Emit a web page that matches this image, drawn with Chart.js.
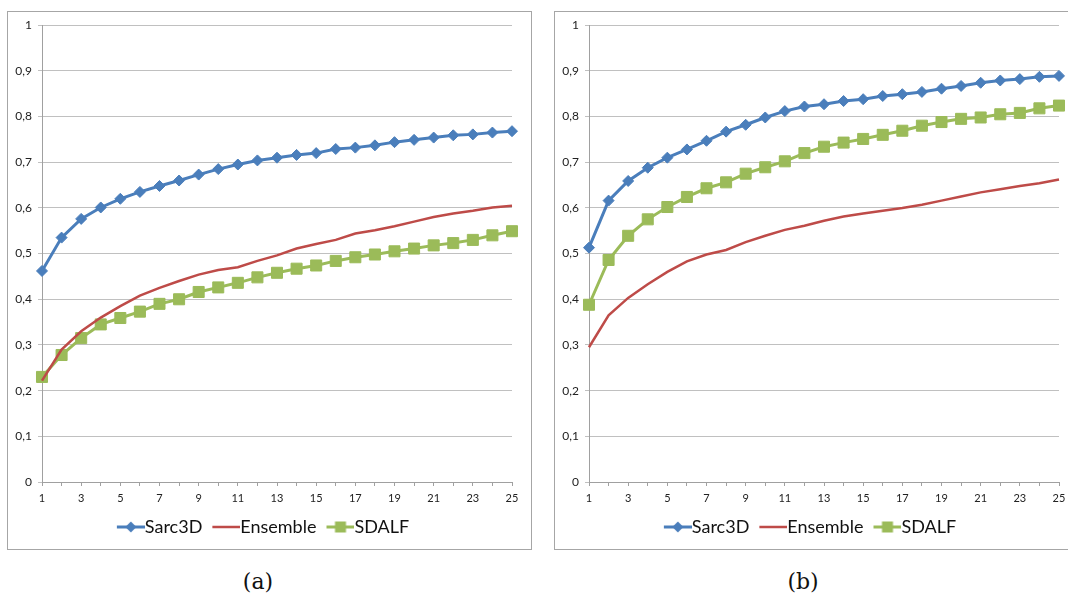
<!DOCTYPE html>
<html>
<head>
<meta charset="utf-8">
<script src="https://cdn.jsdelivr.net/npm/chart.js@4"></script>
<style>
  body { margin: 0; background: #fff; width: 1068px; height: 595px; overflow: hidden; position: relative; }
  .box { position: absolute; top: 11px; width: 523px; height: 537px; border: 1px solid #a6a6a6; background: #fff; }
  .caption { position: absolute; top: 569px; font-family: "DejaVu Serif", "Liberation Serif", serif; font-size: 22px; color: #111; transform: translateX(-50%); }
</style>
</head>
<body>
<div class="box" style="left:7px"><canvas id="chart-a"></canvas></div>
<div class="box" style="left:554px"><canvas id="chart-b"></canvas></div>
<div class="caption" style="left:258px">(a)</div>
<div class="caption" style="left:803px">(b)</div>
<script>
// rangs 1..25
const ranks = ['1','2','3','4','5','6','7','8','9','10','11','12','13','14','15','16','17','18','19','20','21','22','23','24','25'];
const seriesNames = ['Sarc3D', 'Ensemble', 'SDALF'];

// graphique (a)
const sarcA = [0.462,0.535,0.576,0.601,0.620,0.635,0.648,0.660,0.673,0.685,0.695,0.704,0.710,0.716,0.720,0.729,0.732,0.737,0.744,0.749,0.754,0.759,0.761,0.765,0.768];
const ensembleA = [0.222,0.290,0.330,0.360,0.385,0.408,0.425,0.440,0.454,0.464,0.470,0.484,0.496,0.511,0.521,0.530,0.544,0.551,0.560,0.570,0.580,0.588,0.594,0.601,0.605];
const sdalfA = [0.230,0.278,0.315,0.345,0.359,0.373,0.390,0.400,0.416,0.426,0.436,0.448,0.458,0.467,0.474,0.484,0.492,0.498,0.505,0.511,0.518,0.523,0.530,0.540,0.549];

// graphique (b)
const sarcB = [0.513,0.616,0.659,0.688,0.710,0.728,0.747,0.767,0.782,0.798,0.812,0.822,0.827,0.834,0.838,0.845,0.849,0.854,0.861,0.867,0.874,0.879,0.882,0.887,0.889];
const ensembleB = [0.295,0.365,0.403,0.433,0.460,0.483,0.498,0.508,0.525,0.539,0.552,0.561,0.572,0.581,0.588,0.594,0.600,0.607,0.616,0.625,0.634,0.641,0.648,0.654,0.662];
const sdalfB = [0.388,0.486,0.539,0.575,0.602,0.624,0.643,0.656,0.675,0.689,0.702,0.720,0.734,0.743,0.751,0.760,0.769,0.780,0.788,0.795,0.798,0.805,0.808,0.818,0.824];

const blue = '#4a7ebb';
const red = '#be4b48';
const green = '#9bbb59';

// icône de légende façon Excel : trait + marqueur, cadré à droite
// (marge transparente à gauche pour coller le trait au texte)
function legendIcon(color, marker, lw) {
    const c = document.createElement('canvas');
    c.width = 43; c.height = 14;
    const ctx = c.getContext('2d');
    const x0 = 15;
    ctx.strokeStyle = color;
    ctx.fillStyle = color;
    ctx.lineWidth = lw;
    ctx.beginPath();
    ctx.moveTo(x0, 7); ctx.lineTo(43, 7);
    ctx.stroke();
    if (marker === 'diamond') {
        ctx.beginPath();
        ctx.moveTo(x0 + 14, 1.5); ctx.lineTo(x0 + 19.5, 7); ctx.lineTo(x0 + 14, 12.5); ctx.lineTo(x0 + 8.5, 7);
        ctx.closePath(); ctx.fill();
    } else if (marker === 'square') {
        ctx.fillRect(x0 + 8.5, 1.5, 11, 11);
    }
    return c;
}
const icons = [legendIcon(blue, 'diamond', 3), legendIcon(red, null, 2.5), legendIcon(green, 'square', 3)];

function makeChart(id, sarc, ensemble, sdalf) {
    return new Chart(document.getElementById(id), {
        type: 'line',
        data: {
            labels: ranks,
            datasets: [
                { label: seriesNames[0], data: sarc, borderColor: blue, backgroundColor: blue, borderWidth: 3,
                  pointStyle: 'rectRot', pointRadius: 5.5, pointBorderWidth: 1, tension: 0 },
                { label: seriesNames[1], data: ensemble, borderColor: red, backgroundColor: red, borderWidth: 2.5,
                  pointRadius: 0, tension: 0 },
                { label: seriesNames[2], data: sdalf, borderColor: green, backgroundColor: green, borderWidth: 3,
                  pointStyle: 'rect', pointRadius: 7.8, pointBorderWidth: 1, tension: 0 }
            ]
        },
        options: {
            responsive: true,
            maintainAspectRatio: false,
            animation: false,
            layout: { padding: { top: 13, right: 19, left: 0, bottom: 3 } },
            plugins: {
                tooltip: { enabled: false },
                legend: {
                    position: 'bottom',
                    labels: {
                        usePointStyle: true,
                        pointStyleWidth: 25,
                        padding: 4,
                        color: '#111',
                        font: { family: 'Lato', size: 18 },
                        generateLabels: function (chart) {
                            const items = Chart.defaults.plugins.legend.labels.generateLabels(chart);
                            items.forEach(function (it, i) { it.pointStyle = icons[i]; });
                            return items;
                        }
                    }
                }
            },
            scales: {
                x: {
                    offset: false,
                    grid: { drawOnChartArea: false, drawTicks: true, tickLength: 4, color: '#a0a0a0' },
                    border: { color: '#a0a0a0' },
                    ticks: {
                        autoSkip: false, maxRotation: 0, padding: 6, color: '#222',
                        font: { family: 'Lato', size: 11 },
                        callback: function (v, i) { return i % 2 === 0 ? ranks[i] : ''; }
                    },
                    afterFit: function (s) { s.height = 32; }
                },
                y: {
                    min: 0, max: 1,
                    grid: { color: '#c0c0c0', tickLength: 4 },
                    border: { color: '#a0a0a0' },
                    ticks: {
                        stepSize: 0.1, padding: 6, color: '#222',
                        font: { family: 'Lato', size: 12 },
                        callback: function (v) { return String(Math.round(v * 10) / 10).replace('.', ','); }
                    },
                    afterFit: function (s) { s.width = 34; }
                }
            }
        }
    });
}

makeChart('chart-a', sarcA, ensembleA, sdalfA);
makeChart('chart-b', sarcB, ensembleB, sdalfB);
</script>
</body>
</html>
